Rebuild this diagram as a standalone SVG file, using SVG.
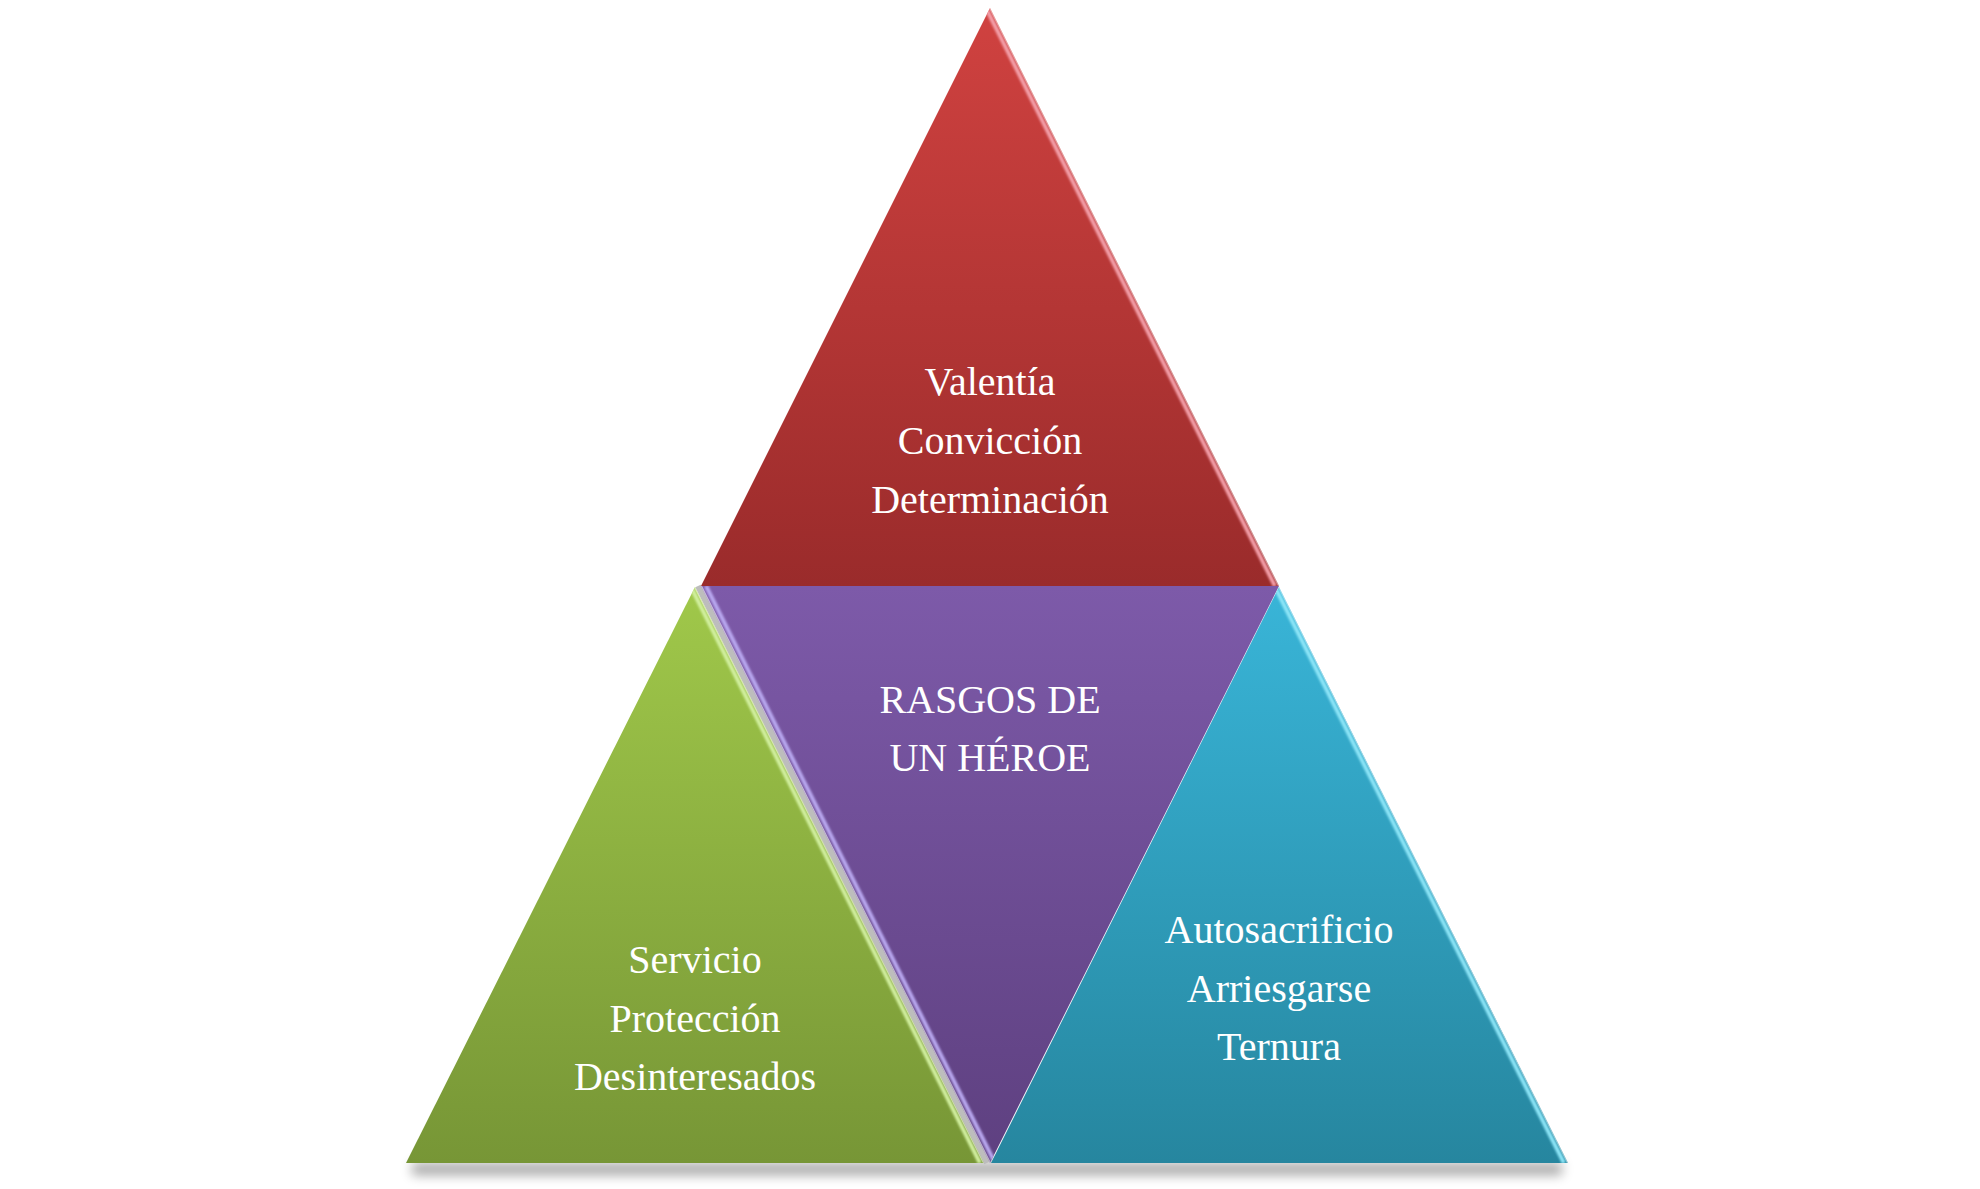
<svg xmlns="http://www.w3.org/2000/svg" width="1980" height="1189" viewBox="0 0 1980 1189">
<defs>
<linearGradient id="gRed" x1="0" y1="0" x2="0" y2="1"><stop offset="0" stop-color="#d04240"/><stop offset="1" stop-color="#9a2b2b"/></linearGradient>
<linearGradient id="gPur" x1="0" y1="0" x2="0" y2="1"><stop offset="0" stop-color="#7d5aa9"/><stop offset="1" stop-color="#5e4080"/></linearGradient>
<linearGradient id="gGrn" x1="0" y1="0" x2="0" y2="1"><stop offset="0" stop-color="#a0c84a"/><stop offset="1" stop-color="#779636"/></linearGradient>
<linearGradient id="gBlu" x1="0" y1="0" x2="0" y2="1"><stop offset="0" stop-color="#39b5d8"/><stop offset="1" stop-color="#26869f"/></linearGradient>
<filter id="blur1" x="-10%" y="-10%" width="120%" height="120%"><feGaussianBlur stdDeviation="1"/></filter>
<filter id="shadow" x="-20%" y="-200%" width="140%" height="500%"><feGaussianBlur stdDeviation="6"/></filter>
<clipPath id="cRed"><polygon points="990,8 701,586 1279,586"/></clipPath>
<clipPath id="cPur"><polygon points="701,586 1279,586 990,1163"/></clipPath>
<clipPath id="cGrn"><polygon points="695,587 406,1163 984,1163"/></clipPath>
<clipPath id="cBlu"><polygon points="1279,587 991,1163 1568,1163"/></clipPath>
</defs>
<style>
.t{font-family:"Liberation Serif","Times New Roman",serif;font-size:40px;fill:#ffffff;text-anchor:middle}
.hl{fill:none;stroke-width:4;filter:url(#blur1)}
</style>
<rect width="1980" height="1189" fill="#ffffff"/>
<g id="shadow-base">
<rect x="412" y="1163" width="1150" height="12" fill="#000" opacity="0.35" filter="url(#shadow)"/>
</g>
<g id="gap">
<line x1="698" y1="586" x2="987" y2="1163" stroke="#bdbdbd" stroke-width="6"/>
</g>
<g id="node-red">
<polygon points="990,8 701,586 1279,586" fill="url(#gRed)"/>
<g clip-path="url(#cRed)">
<line x1="990" y1="8" x2="1279" y2="586" stroke="#ffffff" stroke-width="2" opacity="0.5"/>
<line x1="986" y1="8" x2="1275" y2="586" class="hl" stroke="#f4a0aa"/>
</g>
<text class="t" x="990" y="395">Valentía</text>
<text class="t" x="990" y="454">Convicción</text>
<text class="t" x="990" y="513">Determinación</text>
</g>
<g id="node-purple">
<polygon points="701,586 1279,586 990,1163" fill="url(#gPur)"/>
<g clip-path="url(#cPur)">
<line x1="701" y1="586" x2="990" y2="1163" stroke="#ffffff" stroke-width="2" opacity="0.6"/>
<line x1="706" y1="586" x2="995" y2="1163" class="hl" stroke="#b9a8f0"/>
</g>
<text class="t" x="990" y="713">RASGOS DE</text>
<text class="t" x="990" y="771">UN HÉROE</text>
</g>
<g id="node-green">
<polygon points="695,587 406,1163 984,1163" fill="url(#gGrn)"/>
<g clip-path="url(#cGrn)">
<line x1="695" y1="587" x2="984" y2="1163" stroke="#ffffff" stroke-width="2" opacity="0.6"/>
<line x1="691" y1="587" x2="980" y2="1163" class="hl" stroke="#d2f0a0"/>
</g>
<text class="t" x="695" y="973">Servicio</text>
<text class="t" x="695" y="1032">Protección</text>
<text class="t" x="695" y="1090">Desinteresados</text>
</g>
<g id="node-blue">
<polygon points="1279,587 991,1163 1568,1163" fill="url(#gBlu)"/>
<g clip-path="url(#cBlu)">
<line x1="1279" y1="587" x2="1568" y2="1163" stroke="#ffffff" stroke-width="2" opacity="0.5"/>
<line x1="1275" y1="587" x2="1564" y2="1163" class="hl" stroke="#8ee6f8"/>
</g>
<text class="t" x="1279" y="943">Autosacrificio</text>
<text class="t" x="1279" y="1002">Arriesgarse</text>
<text class="t" x="1279" y="1060">Ternura</text>
</g>
<g id="connectors"></g>
</svg>
